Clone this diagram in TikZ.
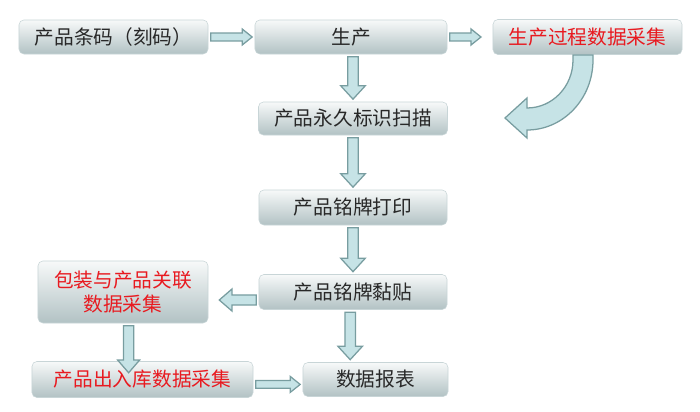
\documentclass[tikz,border=0pt]{standalone}
\usepackage{fontspec}
\setmainfont{Noto Sans CJK SC}
\usetikzlibrary{calc}
\usetikzlibrary{positioning}
\definecolor{boxtop}{RGB}{247,249,249}
\definecolor{boxbot}{RGB}{178,194,196}
\definecolor{boxline}{RGB}{200,213,215}
\definecolor{arrowfill}{RGB}{198,227,230}
\definecolor{arrowline}{RGB}{120,157,160}
\definecolor{txtgray}{RGB}{40,40,40}
\definecolor{txtred}{RGB}{232,26,32}
\tikzset{
    mybox/.style = {rectangle, rounded corners=3.5pt, draw=boxline, thin, top color=boxtop, bottom color=boxbot, text=txtgray, align=center, inner sep=2pt, outer sep=2pt, font=\fontsize{14pt}{16.5pt}\selectfont},
    myboxr/.style = {mybox, text=txtred},
    aw/.store in=\bw, ah/.store in=\bh, al/.store in=\bl,
    edgeblk/.style = {draw=arrowline, fill=arrowfill, line width=0.9pt, line join=miter,
        to path={let \p1=(\tikztostart), \p2=(\tikztotarget),
            \n1={atan2(\y2-\y1,\x2-\x1)}, \n2={veclen(\x2-\x1,\y2-\y1)} in
            ($(\p1)+(\n1+90:\bw)$) -- ++(\n1:\n2-\bl) -- ++(\n1+90:\bh-\bw) -- (\p2)
            -- ($(\p2)+(\n1+180:\bl)+(\n1-90:\bh)$) -- ++(\n1+90:\bh-\bw)
            -- ($(\p1)+(\n1-90:\bw)$) -- cycle}},
    edgeh/.style = {edgeblk, aw=2.8pt, ah=5.7pt, al=7.1pt}, % thin
    edgev/.style = {edgeblk, aw=3.7pt, ah=8.7pt, al=9.5pt}, % thick
    edgel/.style = {edgeblk, aw=3.6pt, ah=7.8pt, al=9pt},
    edgec/.style = {draw=arrowline, fill=arrowfill, line width=0.9pt, line join=miter}
}
\begin{document}
\begin{tikzpicture}[x=0.025cm, y=-0.025cm]
\useasboundingbox (0,0) rectangle (700,412);
%
\node[mybox, minimum width=4.725cm, minimum height=0.85cm] at (113.5, 37) (b1) {产品条码（刻码）};
\node[mybox, minimum width=4.8cm, minimum height=0.85cm] at (351, 37) (b2) {生产};
\node[myboxr, minimum width=4.725cm, minimum height=0.875cm] at (587.5, 37) (b3) {生产过程数据采集};
\node[mybox, minimum width=4.725cm, minimum height=0.825cm] at (353, 118.5) (b4) {产品永久标识扫描};
\node[mybox, minimum width=4.7cm, minimum height=0.875cm] at (353, 207.5) (b5) {产品铭牌打印};
\node[mybox, minimum width=4.7cm, minimum height=0.875cm] at (353, 292) (b6) {产品铭牌黏贴};
\node[myboxr, minimum width=4.25cm, minimum height=1.55cm] at (123, 292) (b7) {包装与产品关联\\数据采集};
\node[myboxr, minimum width=5.525cm, minimum height=0.9cm] at (142.5, 379.5) (b8) {产品出入库数据采集};
\node[mybox, minimum width=3.625cm, minimum height=0.85cm] at (375.5, 379.5) (b9) {数据报表};
%
\coordinate (k7) at ([xshift=4pt]b7.south);
\coordinate (k6) at ([xshift=-2pt]b6.south);
\draw[edgeh] (b1.east) to (b2.west);
\draw[edgeh] (b2.east) to ([xshift=-6.5pt]b3.west);
\draw[edgev] (b4.north |- b2.south) to (b4.north);
\draw[edgev] (b4.south) to (b5.north);
\draw[edgev] (b5.south) to (b6.north);
\draw[edgev] (k6) to (k6 |- b9.north);
\draw[edgel] ([yshift=-5.7pt]b6.west) to ([yshift=-5.7pt, xshift=6pt]b7.east);
\draw[edgel] (k7) to ([yshift=-10pt]k7 |- b8.north);
\draw[edgeh] ([yshift=-3.5pt]b8.east) to ([yshift=-3.5pt]b9.west);
%
\draw[edgec] (593,55) -- (593,60) arc[start angle=0, end angle=90, x radius=66, y radius=70]
    -- (527,138) -- (505,118) -- (527,98) -- (527,108)
    arc[start angle=90, end angle=0, x radius=46, y radius=48] -- (573,55) -- cycle;

\end{tikzpicture}
\end{document}
